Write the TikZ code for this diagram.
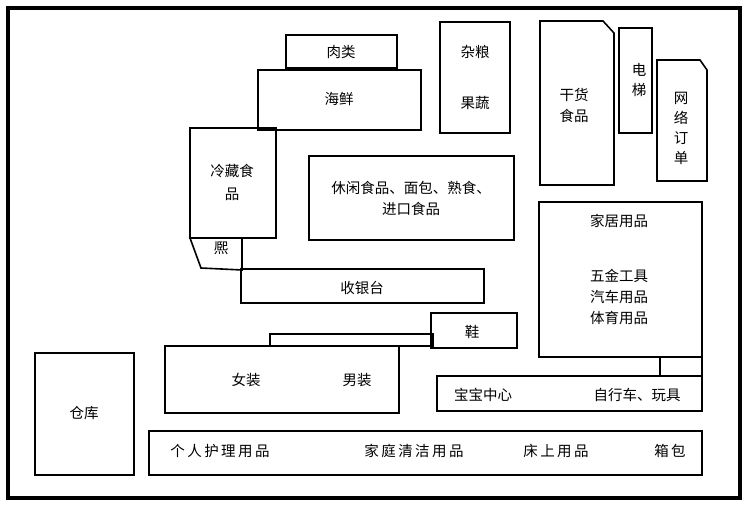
\documentclass[tikz,border=0pt]{standalone}
\usepackage{fontspec}
\newfontfamily\cjk{Noto Sans CJK SC}
\begin{document}
\begin{tikzpicture}[x=1pt,y=-1pt,font=\cjk\fontsize{14.5}{17}\selectfont,
  room/.style={draw,line width=1.6pt},
  lbl/.style={inner sep=0pt,align=center}]
\useasboundingbox (0,0) rectangle (748,506);
\draw[line width=3.5pt] (8,8) rectangle (740,498);
\draw[room] (286,35) rectangle (397,68);
\node[lbl] (rou) at (341,52) {肉类};
\draw[room] (258,70) rectangle (421,130);
\node[lbl] (hx) at (339,99) {海鲜};
\draw[room] (440,22) rectangle (510,133);
\node[lbl] (zl) at (475,52) {杂粮};
\node[lbl] (gs) at (475,103) {果蔬};
\draw[room] (540,21) -- (603,21) -- (614,33) -- (614,185) -- (540,185) -- cycle;
\node[lbl] (gh) at (574,105) {干货\\[4pt]食品};
\draw[room] (619,28) rectangle (652,133);
\node[lbl] (dt) at (639,80) {电\\[3pt]梯};
\draw[room] (657,60) -- (700,60) -- (707,70) -- (707,181) -- (657,181) -- cycle;
\node[lbl] (wl) at (681,128) {网\\[3pt]络\\[3pt]订\\[3pt]单};
\draw[room] (190,128) rectangle (276,238);
\node[lbl] (lc) at (232,182) {冷藏食\\[6pt]品};
\draw[room] (190,238) -- (242,238) -- (242,270) -- (201,268) -- cycle;
\node[lbl] (xx) at (221,248) {熈};
\draw[room] (309,156) rectangle (514,240);
\node[lbl] (xxsp) at (411,198) {休闲食品、面包、熟食、\\[4pt]进口食品};
\draw[room] (241,269) rectangle (484,303);
\node[lbl] (sy) at (362,288) {收银台};
\draw[room] (270,334) rectangle (433,346);
\draw[room] (431,313) rectangle (517,348);
\node[lbl] (xie) at (472,332) {鞋};
\draw[room] (165,346) rectangle (399,413);
\node[lbl] (nv) at (246,380) {女装};
\node[lbl] (nan) at (357,380) {男装};
\draw[room] (539,202) rectangle (702,357);
\node[lbl] (jj) at (619,221) {家居用品};
\node[lbl] (wj) at (619,297) {五金工具\\[4pt]汽车用品\\[4pt]体育用品};
\draw[room] (660,357) rectangle (702,376);
\draw[room] (437,376) rectangle (702,411);
\node[lbl] (bb) at (483,395) {宝宝中心};
\node[lbl] (zx) at (637,395) {自行车、玩具};
\draw[room] (35,353) rectangle (134,475);
\node[lbl] (ck) at (84,413) {仓库};
\draw[room] (149,431) rectangle (702,475);
\node[lbl] (gr) at (220,451) {个\,人\,护\,理\,用\,品};
\node[lbl] (jt) at (414,451) {家\,庭\,清\,洁\,用\,品};
\node[lbl] (cs) at (556,451) {床\,上\,用\,品};
\node[lbl] (xb) at (670,451) {箱\,包};
\end{tikzpicture}
\end{document}
